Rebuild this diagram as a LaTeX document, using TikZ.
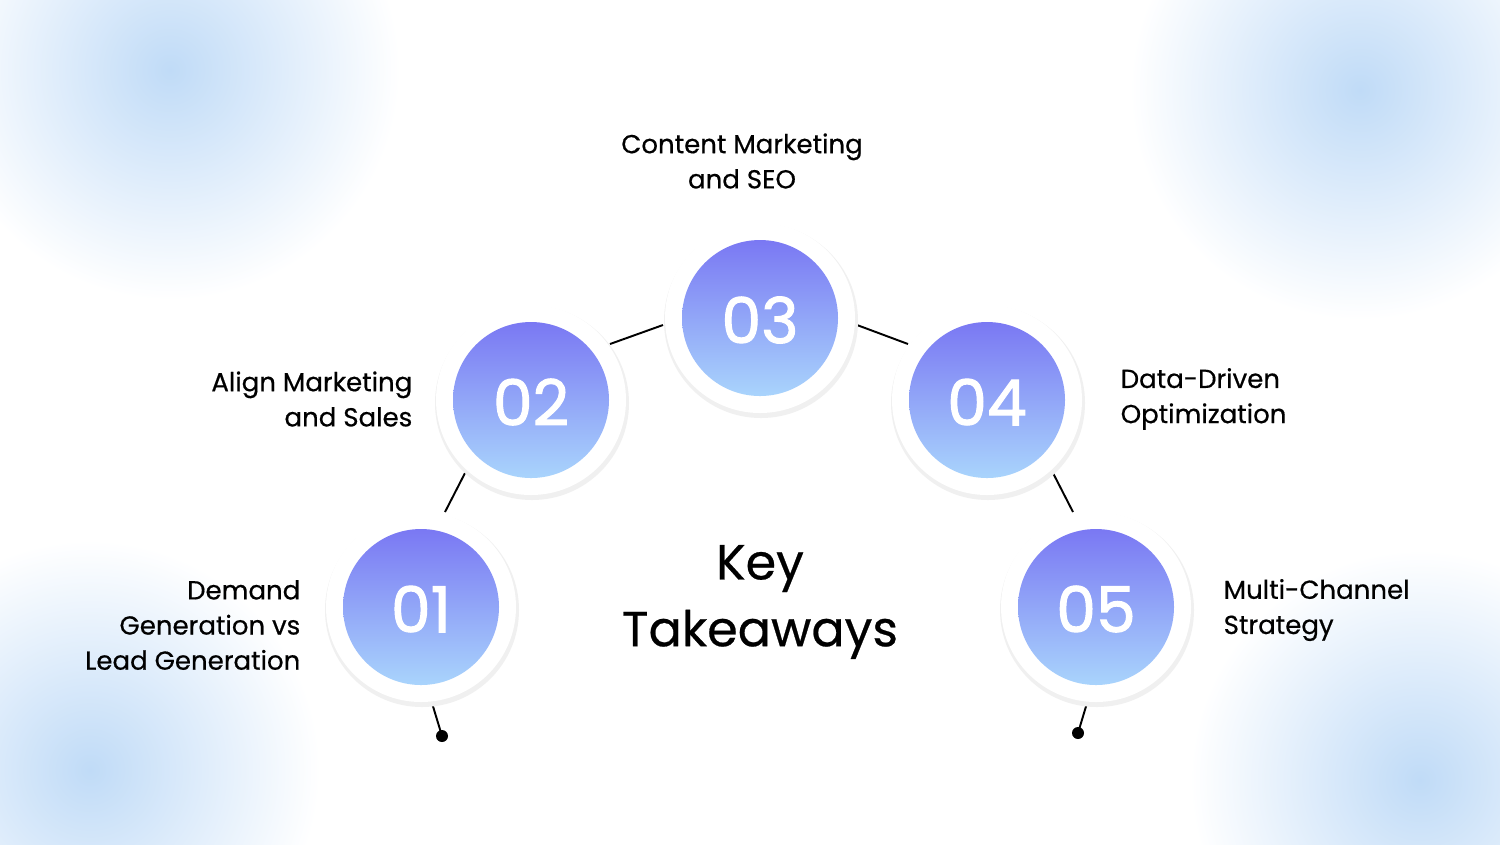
\documentclass[tikz,border=0pt]{standalone}
\usepackage{fontspec}
\setmainfont{Poppins}
\newfontfamily\numfont[FakeBold=1.6]{Poppins}
\newfontfamily\labfont[FakeBold=0.5]{Poppins}
\definecolor{gtop}{HTML}{7A78F3}
\definecolor{gbot}{HTML}{A9D4FC}
\definecolor{blob}{HTML}{C0DBF7}
\begin{document}
\begin{tikzpicture}[x=0.01cm,y=-0.01cm,
  lab/.style={font=\labfont\fontsize{7.4pt}{10pt}\selectfont,text=black,inner sep=0},
  num/.style={font=\numfont\fontsize{18pt}{18pt}\selectfont,text=white,inner sep=0},
  conn/.style={draw=black,line width=0.55pt}]
\useasboundingbox (0,0) rectangle (1500,844);
\fill[white] (0,0) rectangle (1500,844);
\begin{scope}
\clip (0,0) rectangle (1500,844);
\foreach \p in {(170,70),(1360,90),(90,770),(1420,780)}
  \shade[inner color=blob,outer color=white] \p circle (230);
\end{scope}
% connectors
\coordinate (a1) at (432,703); \coordinate (e1) at (442,736);
\coordinate (b1) at (445,512); \coordinate (b2) at (465,473);
\coordinate (c1) at (610,344); \coordinate (c2) at (663,325);
\coordinate (d1) at (857,325); \coordinate (d2) at (908,344);
\coordinate (f1) at (1053,473); \coordinate (f2) at (1073,512);
\coordinate (g1) at (1087,703); \coordinate (e2) at (1078,733);
\draw[conn] (a1) -- (e1); \draw[conn] (b1) -- (b2); \draw[conn] (c1) -- (c2);
\draw[conn] (d1) -- (d2); \draw[conn] (f1) -- (f2); \draw[conn] (g1) -- (e2);
\fill (e1) circle (6); \fill (e2) circle (6);
% circles
\foreach \n/\x/\y in {01/421/607,02/531/400,03/760/318,04/987/400,05/1096/607}{
  \fill[black!6] (\x+1,\y+3) circle (97);
  \fill[white] (\x,\y) circle (95);
  \shade[top color=gtop,bottom color=gbot] (\x,\y) circle (78);
  \node[num] (n\n) at (\x,\y+2) {\n};
}
\node[lab,align=center] (t3) at (742,161) {Content Marketing\\and SEO};
\node[lab,align=right,anchor=east] (t2) at (413,399) {Align Marketing\\and Sales};
\node[lab,align=left,anchor=west] (t4) at (1120,399) {Data-Driven\\Optimization};
\node[lab,align=right,anchor=east] (t1) at (301,625) {Demand\\Generation vs\\Lead Generation};
\node[lab,align=left,anchor=west] (t5) at (1223,610) {Multi-Channel\\Strategy};
\node[inner sep=0,align=center,font=\labfont\fontsize{14pt}{19pt}\selectfont] (kt) at (760,602) {Key\\Takeaways};
\end{tikzpicture}
\end{document}
